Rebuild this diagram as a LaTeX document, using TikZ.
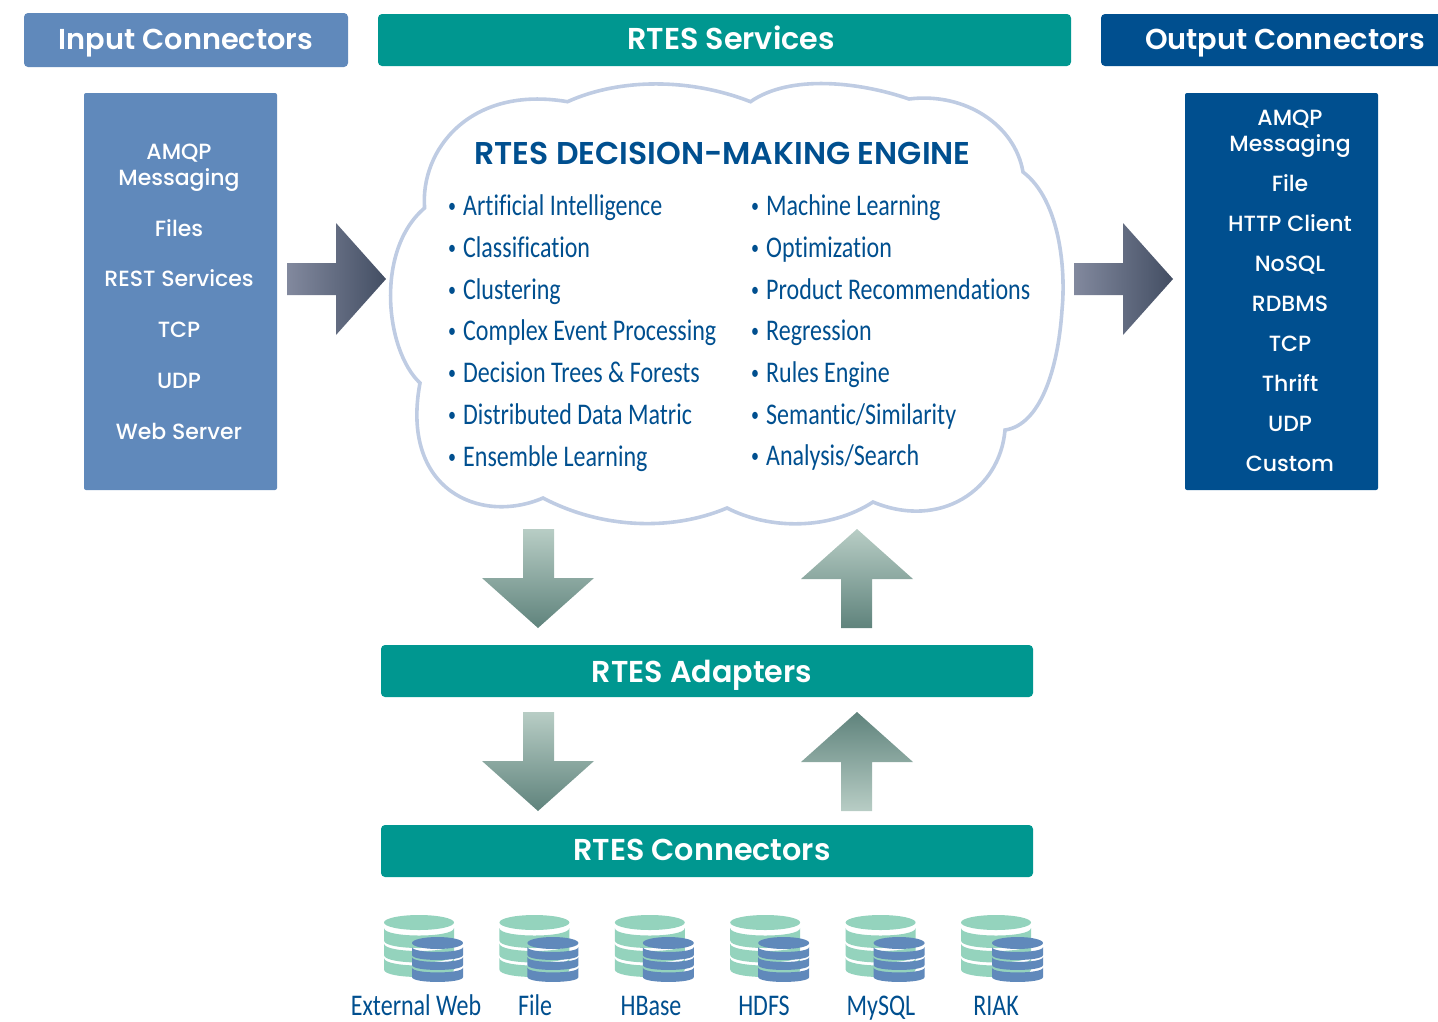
\documentclass[tikz,border=0pt]{standalone}
\usepackage{fontspec}
\setmainfont{Poppins}[BoldFont={Poppins SemiBold}]
\newfontfamily\listfont{Poppins Medium}
\newfontfamily\condfont[FakeStretch=0.8,Ligatures=NoCommon]{Carlito}
\usetikzlibrary{positioning}
\definecolor{inblue}{HTML}{6089BB}
\definecolor{outblue}{HTML}{004F8F}
\definecolor{rtesteal}{HTML}{009790}
\definecolor{cloudline}{HTML}{BFCCE3}
\definecolor{dbgreen}{HTML}{94D3BD}
\definecolor{slatelight}{HTML}{82899E}
\definecolor{slatedark}{HTML}{434E63}
\definecolor{sagelight}{HTML}{B8CDC5}
\definecolor{sagedark}{HTML}{5F837C}
\tikzset{
	headtext/.style={anchor=base,text=white,inner sep=0pt,font=\fontsize{28.8}{30}\selectfont\bfseries},
	rteshead/.style={anchor=base,text=white,inner sep=0pt,font=\fontsize{30.2}{30}\selectfont\bfseries},
	listbox/.style={fill=#1,rounded corners=2pt},
	listitem/.style={anchor=base,text=white,align=center,inner sep=0pt,font=\fontsize{22}{26}\listfont},
	bulletitem/.style={anchor=base west,inner sep=0pt,text=outblue,font=\fontsize{30}{30}\condfont},
	dbname/.style={anchor=base,inner sep=0pt,text=outblue,font=\fontsize{30}{30}\condfont}
}
\newcommand{\blt}{\makebox[15pt][l]{\raisebox{2.5pt}{\fontsize{20}{20}\selectfont•}}}
\begin{document}
\begin{tikzpicture}[x=1pt,y=-1pt]
	\useasboundingbox (0,0) rectangle (1438,1021);

	% title bars
	\fill[inblue,rounded corners=4pt] (24,13) rectangle (348,67);
	\fill[rtesteal,rounded corners=4pt] (378,14) rectangle (1071,66);
	\fill[outblue,rounded corners=4pt] (1101,14) rectangle (1450,66);
	\node[headtext] (input) at (186,49) {Input Connectors};
	\node[rteshead] (services) at (731,49) {RTES Services};
	\node[headtext] (output) at (1285,49) {Output Connectors};

	% side lists
	\fill[listbox=inblue] (84,93) rectangle (277,490);
	\fill[listbox=outblue] (1185,93) rectangle (1378,490);
	\begin{scope}[every node/.style={listitem}]
		\node (la) at (179,185) {AMQP\\Messaging};
		\node (lb) at (179,236.5) {Files};
		\node (lc) at (179,286.5) {REST Services};
		\node (ld) at (179,337.5) {TCP};
		\node (le) at (179,388.5) {UDP};
		\node (lf) at (179,439.5) {Web Server};

		\node (ra) at (1290,151) {AMQP\\Messaging};
		\node (rb) at (1290,191) {File};
		\node (rc) at (1290,231) {HTTP Client};
		\node (rd) at (1290,271) {NoSQL};
		\node (re) at (1290,311) {RDBMS};
		\node (rf) at (1290,351) {TCP};
		\node (rg) at (1290,391) {Thrift};
		\node (rh) at (1290,431) {UDP};
		\node (ri) at (1290,471) {Custom};
	\end{scope}

	% cloud
	\draw[cloudline,line width=3.6pt,line join=miter] (424.6,208)
		.. controls (420,150) and (470,85) .. (567.5,101.7)
		.. controls (620,78) and (690,78) .. (750.5,101.7)
		.. controls (790,74) and (860,82) .. (909,99)
		.. controls (965,92) and (1015,125) .. (1023,172)
		.. controls (1060,200) and (1066,270) .. (1062,310)
		.. controls (1058,370) and (1040,425) .. (1005,430)
		.. controls (1000,490) and (940,530) .. (873,502)
		.. controls (830,530) and (770,530) .. (727,508)
		.. controls (670,532) and (600,528) .. (543,498)
		.. controls (480,525) and (400,490) .. (420,383)
		.. controls (385,350) and (375,250) .. (424.6,208) -- cycle;
	\node (engine) at (722.5,164) [anchor=base,inner sep=0pt,text=outblue,font=\fontsize{31.5}{32}\selectfont\bfseries] {RTES DECISION-MAKING ENGINE};

	\begin{scope}[every node/.style={bulletitem}]
		\node (a1) at (448,215) {\blt Artificial Intelligence};
		\node (a2) at (448,257) {\blt Classification};
		\node (a3) at (448,299) {\blt Clustering};
		\node (a4) at (448,340) {\blt Complex Event Processing};
		\node (a5) at (448,382) {\blt Decision Trees \& Forests};
		\node (a6) at (448,424) {\blt Distributed Data Matric};
		\node (a7) at (448,466) {\blt Ensemble Learning};

		\node (b1) at (751,215) {\blt Machine Learning};
		\node (b2) at (751,257) {\blt Optimization};
		\node (b3) at (751,299) {\blt Product Recommendations};
		\node (b4) at (751,340) {\blt Regression};
		\node (b5) at (751,382) {\blt Rules Engine};
		\node (b6) at (751,424) {\blt Semantic/Similarity};
		\node (b7) at (751,465) {\blt Analysis/Search};
	\end{scope}

	% block arrows
	\shade[left color=slatelight,right color=slatedark] (287,263) -- (336,263) -- (336,223) -- (386,279) -- (336,335) -- (336,295) -- (287,295) -- cycle;
	\shade[left color=slatelight,right color=slatedark] (1074,263) -- (1123,263) -- (1123,223) -- (1173,279) -- (1123,335) -- (1123,295) -- (1074,295) -- cycle;

	\shade[top color=sagelight,bottom color=sagedark] (523,529) -- (554,529) -- (554,578) -- (594,578) -- (538,628) -- (482,578) -- (523,578) -- cycle;
	\shade[top color=sagelight,bottom color=sagedark] (857,529) -- (913,579) -- (872,579) -- (872,628) -- (841,628) -- (841,579) -- (801,579) -- cycle;
	\shade[top color=sagelight,bottom color=sagedark] (523,712) -- (554,712) -- (554,761) -- (594,761) -- (538,811) -- (482,761) -- (523,761) -- cycle;
	\shade[top color=sagedark,bottom color=sagelight] (857,712) -- (913,762) -- (872,762) -- (872,811) -- (841,811) -- (841,762) -- (801,762) -- cycle;

	% lower bars
	\fill[rtesteal,rounded corners=4pt] (381,645) rectangle (1033,697);
	\fill[rtesteal,rounded corners=4pt] (381,825) rectangle (1033,877);
	\begin{scope}[every node/.style={rteshead}]
		\node (adapters) at (702,682) {RTES Adapters};
		\node (connectors) at (702,860) {RTES Connectors};
	\end{scope}

	% databases
	\foreach \x/\s in {0/0,115.4/115.4,230.8/230.8,346.2/346.2,461.6/461.6,577/580} {
		\begin{scope}[shift={(\x,0)}]
			\fill[dbgreen] (419,922.5) ellipse [x radius=35,y radius=7.5];
			\foreach \t/\b in {928/940.5,943.5/955,958/969.5} {
				\fill[dbgreen] (384,\t) .. controls (384,\t+10) and (454,\t+10) .. (454,\t) -- (454,\b) .. controls (454,\b+10) and (384,\b+10) .. (384,\b) -- cycle;
			}
		\end{scope}
		\begin{scope}[shift={(\s,0)}]
			\fill[inblue] (437.5,943) ellipse [x radius=25.5,y radius=6];
			\foreach \t/\b in {947/955,957/965,967.5/977} {
				\fill[inblue] (412,\t) .. controls (412,\t+6.6) and (463,\t+6.6) .. (463,\t) -- (463,\b) .. controls (463,\b+6.6) and (412,\b+6.6) .. (412,\b) -- cycle;
			}
		\end{scope}
	}
	\begin{scope}[every node/.style={dbname}]
		\node (web) at (416,1015) {External Web};
		\node (file) at (535,1015) {File};
		\node (hbase) at (651,1015) {HBase};
		\node (hdfs) at (764,1015) {HDFS};
		\node (mysql) at (881,1015) {MySQL};
		\node (riak) at (996,1015) {RIAK};
	\end{scope}
\end{tikzpicture}
\end{document}
